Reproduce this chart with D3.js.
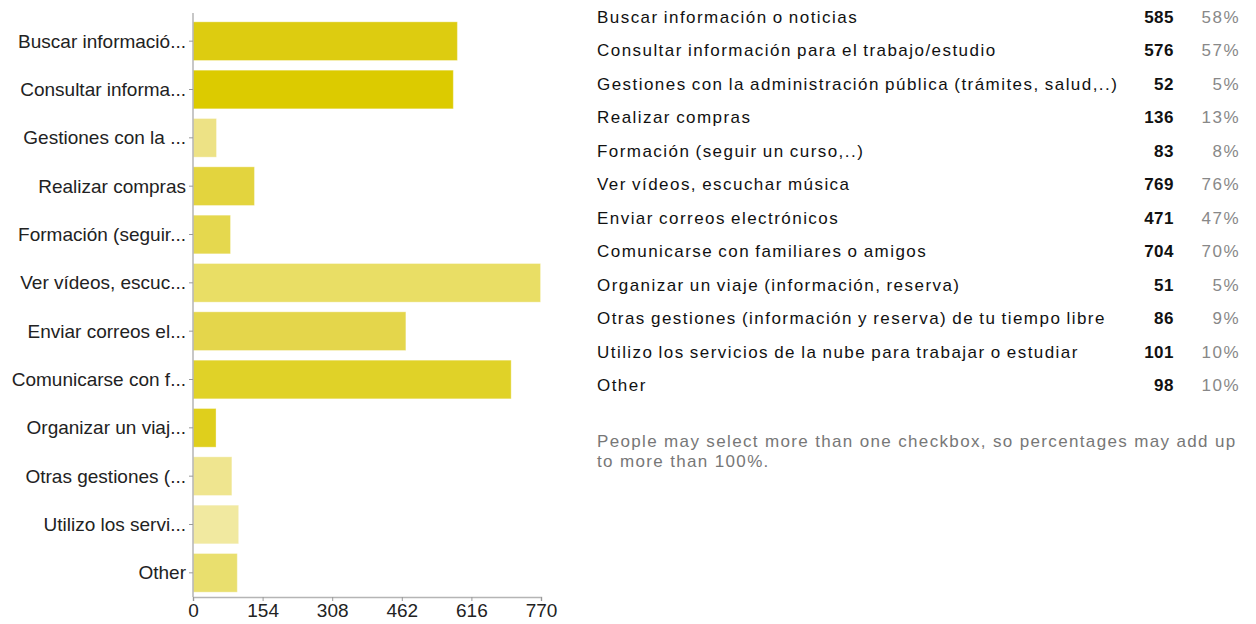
<!DOCTYPE html>
<html>
<head>
<meta charset="utf-8">
<script src="https://cdn.jsdelivr.net/npm/d3@7"></script>
<style>
  html, body { margin: 0; padding: 0; background: #fff; }
  svg { display: block; font-family: "Liberation Sans", Arial, sans-serif; }
</style>
</head>
<body>
<svg id="chart" width="1256" height="624"></svg>
<script>
// ---- data ----
const shortLabels = ["Buscar informació...", "Consultar informa...", "Gestiones con la ...", "Realizar compras",
  "Formación (seguir...", "Ver vídeos, escuc...", "Enviar correos el...", "Comunicarse con f...",
  "Organizar un viaj...", "Otras gestiones (...", "Utilizo los servi...", "Other"];
const fullLabels = ["Buscar información o noticias", "Consultar información para el trabajo/estudio",
  "Gestiones con la administración pública (trámites, salud,..)", "Realizar compras",
  "Formación (seguir un curso,..)", "Ver vídeos, escuchar música", "Enviar correos electrónicos",
  "Comunicarse con familiares o amigos", "Organizar un viaje (información, reserva)",
  "Otras gestiones (información y reserva) de tu tiempo libre",
  "Utilizo los servicios de la nube para trabajar o estudiar", "Other"];
const counts = [585, 576, 52, 136, 83, 769, 471, 704, 51, 86, 101, 98];
const percents = ["58%", "57%", "5%", "13%", "8%", "76%", "47%", "70%", "5%", "9%", "10%", "10%"];
const barColors = ["#ddcc10", "#dccb00", "#ede285", "#e3d43e", "#e5d84e", "#e9de65",
  "#e4d64b", "#e0d228", "#dfcf1c", "#efe58f", "#f1e9a0", "#e9df6e"];
const xTicks = [0, 154, 308, 462, 616, 770];
const footnoteLines = ["People may select more than one checkbox, so percentages may add up", "to more than 100%."];

// ---- chart ----
const svg = d3.select("#chart");
const idx = d3.range(counts.length);

const x = d3.scaleLinear().domain([0, 770]).range([193, 541]);
const y = d3.scaleBand().domain(idx).range([17, 597]).paddingInner(0.2).paddingOuter(0.1);

// bars
svg.append("g").selectAll("rect").data(idx).join("rect")
  .attr("x", x(0))
  .attr("y", d => y(d))
  .attr("width", d => x(counts[d]) - x(0))
  .attr("height", y.bandwidth())
  .attr("fill", d => barColors[d])
  .attr("stroke", "#ffffff")
  .attr("stroke-opacity", 0.35)
  .attr("stroke-width", 1);

// y axis
const yAxis = d3.axisLeft(y).tickSize(4).tickPadding(3).tickFormat(d => shortLabels[d]);
const gy = svg.append("g").attr("transform", `translate(${x(0)},0)`).call(yAxis);
gy.select(".domain").attr("stroke", "#b5b5b5").attr("stroke-width", 1.5).attr("d", "M0,13V597");
gy.selectAll(".tick line").attr("stroke", "#9a9a9a");
gy.selectAll(".tick text").attr("fill", "#222").style("font-size", "19px").attr("dy", "0.34em");

// x axis
const xAxis = d3.axisBottom(x).tickValues(xTicks).tickSize(4).tickPadding(3).tickFormat(d3.format("d"));
const gx = svg.append("g").attr("transform", "translate(0,597)").call(xAxis);
gx.select(".domain").attr("stroke", "#b5b5b5").attr("stroke-width", 1.5);
gx.selectAll(".tick line").attr("stroke", "#9a9a9a");
gx.selectAll(".tick text").attr("fill", "#222").style("font-size", "19px");

// ---- table ----
const rowY = d3.scalePoint().domain(idx).range([16.7, 385]);
const table = svg.append("g").style("font-size", "17px");
table.selectAll("text.lab").data(idx).join("text").attr("class", "lab")
  .attr("x", 597).attr("y", d => rowY(d)).attr("dy", "0.36em")
  .attr("fill", "#111").style("letter-spacing", "1.45px").style("word-spacing", "-1px")
  .text(d => fullLabels[d]);
table.selectAll("text.cnt").data(idx).join("text").attr("class", "cnt")
  .attr("x", 1174).attr("y", d => rowY(d)).attr("dy", "0.36em")
  .attr("text-anchor", "end").attr("font-weight", "bold").attr("fill", "#111")
  .style("letter-spacing", "0.5px")
  .text(d => counts[d]);
table.selectAll("text.pct").data(idx).join("text").attr("class", "pct")
  .attr("x", 1240).attr("y", d => rowY(d)).attr("dy", "0.36em")
  .attr("text-anchor", "end").attr("fill", "#888")
  .style("letter-spacing", "1.5px")
  .text(d => percents[d]);

// footnote
svg.append("g").selectAll("text").data(footnoteLines).join("text")
  .attr("x", 597).attr("y", (d, i) => 441 + i * 20).attr("dy", "0.36em")
  .attr("fill", "#777").style("font-size", "17px")
  .style("letter-spacing", "1.35px").style("word-spacing", "0px")
  .text(d => d);
</script>
</body>
</html>
